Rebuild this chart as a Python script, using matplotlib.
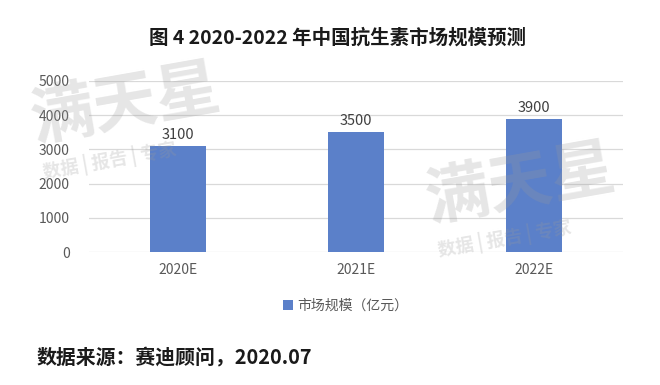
import matplotlib
matplotlib.use("Agg")
import matplotlib.pyplot as plt

plt.rcParams['font.family'] = ['Noto Sans CJK SC', 'DejaVu Sans']

categories = ["2020E", "2021E", "2022E"]
values = [3100, 3500, 3900]
yticks = [0, 1000, 2000, 3000, 4000, 5000]
series_name = "市场规模（亿元）"
title = "图 4 2020-2022 年中国抗生素市场规模预测"
source = "数据来源：赛迪顾问，2020.07"

bar_color = "#5B80C9"

fig = plt.figure(figsize=(6.6, 3.85), dpi=100)
ax = fig.add_axes([89/660, 1-252/385, (623-89)/660, (252-81)/385])

x = list(range(len(categories)))
bars = ax.bar(x, values, width=0.315, color=bar_color, zorder=3, label=series_name)
for xi, v in zip(x, values):
    ax.text(xi, v + 120, f"{v}", ha="center", va="bottom", fontsize=10.5, color="#404040", zorder=4)

ax.set_xlim(-0.5, len(categories) - 0.5)
ax.set_ylim(0, 5000)
ax.set_yticks(yticks)
ax.set_yticklabels([str(t) for t in yticks])
ax.set_xticks(x)
ax.set_xticklabels(categories)
ax.tick_params(axis="both", length=0, labelsize=10, colors="#595959")
ax.tick_params(axis="y", pad=14)
ax.tick_params(axis="x", pad=8)
ax.grid(axis="y", color="#d9d9d9", linewidth=0.9, zorder=0)
for s in ax.spines.values():
    s.set_visible(False)

leg = ax.legend(loc="upper center", bbox_to_anchor=(0.48, -0.2), frameon=False,
                fontsize=10, handlelength=0.7, handleheight=0.7, handletextpad=0.3)
for t in leg.get_texts():
    t.set_color("#595959")

fig.text(338/660, 1-38/385, title, ha="center", va="center", fontsize=14,
         fontweight="bold", color="#1a1a1a")
fig.text(37/660, 1-358/385, source, ha="left", va="center", fontsize=14.3,
         fontweight="bold", color="#1a1a1a")

# faint watermarks
wm = dict(color="#9a9a9a", alpha=0.25, ha="center", va="center", zorder=10)
fig.text(125/660, 1-105/385, "满天星", fontsize=46, fontweight="bold", rotation=10, **wm)
fig.text(110/660, 1-160/385, "数据 | 报告 | 专家", fontsize=13, fontweight="bold", rotation=10, **wm)
fig.text(520/660, 1-185/385, "满天星", fontsize=46, fontweight="bold", rotation=10, **wm)
fig.text(505/660, 1-238/385, "数据 | 报告 | 专家", fontsize=13, fontweight="bold", rotation=10, **wm)

fig.savefig("out.png", dpi=100)
